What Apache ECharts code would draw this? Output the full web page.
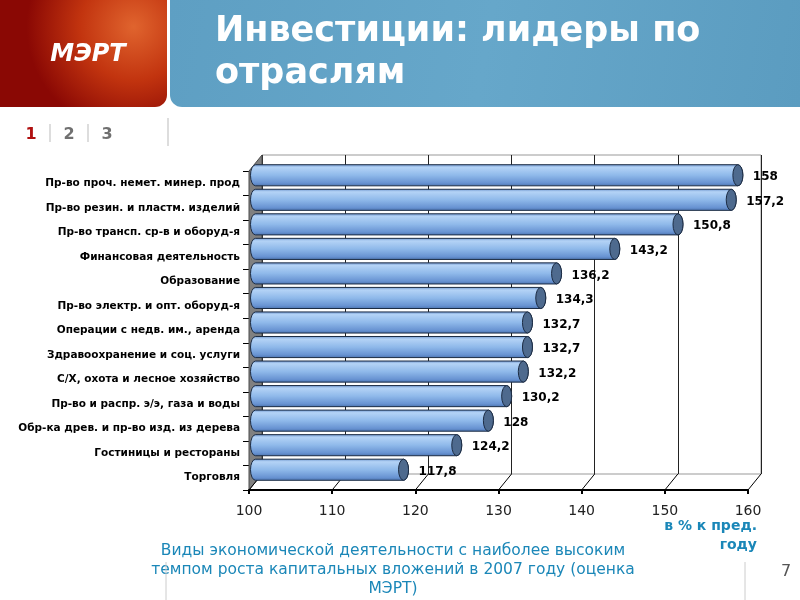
<!DOCTYPE html>
<html>
<head>
<meta charset="utf-8">
<script src="https://cdn.jsdelivr.net/npm/echarts@6/dist/echarts.min.js"></script>
<style>
  html, body { margin: 0; padding: 0; background: #fff; }
  #chart { width: 800px; height: 600px; }
</style>
</head>
<body>
<div id="chart"></div>
<script>
const categories = [
  "Пр-во проч. немет. минер. прод",
  "Пр-во резин. и пластм. изделий",
  "Пр-во трансп. ср-в и оборуд-я",
  "Финансовая деятельность",
  "Образование",
  "Пр-во электр. и опт. оборуд-я",
  "Операции с недв. им., аренда",
  "Здравоохранение и соц. услуги",
  "С/Х, охота и лесное хозяйство",
  "Пр-во и распр. э/э, газа и воды",
  "Обр-ка древ. и пр-во изд. из дерева",
  "Гостиницы и рестораны",
  "Торговля",
];
const values = [158, 157.2, 150.8, 143.2, 136.2, 134.3, 132.7, 132.7, 132.2, 130.2, 128, 124.2, 117.8];
const ticks = [100, 110, 120, 130, 140, 150, 160];

// 3d depth of the chart box
const DX = 13;
const DY = -16;
const FONT = '"DejaVu Sans"';
const TEAL = "#1b87b8";

var chart = echarts.init(document.getElementById("chart"));

function renderBar(params, api) {
  var val = api.value(0);
  var idx = api.value(1);
  var start = api.coord([ticks[0], idx]);
  var end = api.coord([val, idx]);
  var band = api.size([0, 1])[1];
  var h = band * 0.86;
  var ry = h / 2;
  var rx = 5;
  var x0 = start[0] + DX / 2;
  var x1 = end[0] + DX / 2;
  var yc = start[1] + DY / 2;
  var yt = yc - ry;
  var yb = yc + ry;
  var body =
    "M" + x0 + " " + yt + " L" + x1 + " " + yt +
    " A" + rx + " " + ry + " 0 0 1 " + x1 + " " + yb +
    " L" + x0 + " " + yb +
    " A" + rx + " " + ry + " 0 0 1 " + x0 + " " + yt + " Z";
  var cap =
    "M" + x1 + " " + yt +
    " A" + rx + " " + ry + " 0 0 1 " + x1 + " " + yb +
    " A" + rx + " " + ry + " 0 0 1 " + x1 + " " + yt + " Z";
  return {
    type: "group",
    children: [
      {
        type: "path",
        shape: { pathData: body },
        style: {
          fill: new echarts.graphic.LinearGradient(0, 0, 0, 1, [
            { offset: 0, color: "#6a92cc" },
            { offset: 0.14, color: "#b4d3f6" },
            { offset: 0.5, color: "#8fb9ea" },
            { offset: 0.85, color: "#6893d2" },
            { offset: 1, color: "#4a72ae" },
          ]),
          stroke: "#1c2c44",
          lineWidth: 1,
        },
      },
      {
        type: "path",
        shape: { pathData: cap },
        style: { fill: "#4e6a8e", stroke: "#1c2c44", lineWidth: 1 },
      },
      {
        type: "text",
        style: {
          x: x1 + rx + 10,
          y: yc + 2,
          text: String(val).replace(".", ","),
          font: "bold 12px " + FONT,
          fill: "#000",
          textAlign: "left",
          textVerticalAlign: "middle",
        },
      },
    ],
  };
}

function renderWall(params, api) {
  var band = api.size([0, 1])[1];
  var top = api.coord([ticks[0], 0]);
  var bot = api.coord([ticks[0], categories.length - 1]);
  var x = top[0];
  var y0 = top[1] - band / 2;
  var y1 = bot[1] + band / 2;
  return {
    type: "polygon",
    shape: {
      points: [
        [x, y0],
        [x, y1],
        [x + DX, y1 + DY],
        [x + DX, y0 + DY],
      ],
    },
    style: { fill: "#808080", stroke: "#4a4a4a", lineWidth: 1 },
  };
}

function renderFloor(params, api) {
  var band = api.size([0, 1])[1];
  var p = api.coord([api.value(0), api.value(1)]);
  var y = p[1] + band / 2;
  return {
    type: "line",
    shape: { x1: p[0], y1: y, x2: p[0] + DX, y2: y + DY },
    style: { stroke: "#000", lineWidth: 1 },
  };
}

var option = {
  animation: false,
  backgroundColor: "#fff",
  graphic: [
    {
      type: "rect",
      shape: { x: 0, y: 0, width: 167, height: 107, r: [0, 0, 12, 0] },
      style: {
        fill: new echarts.graphic.RadialGradient(0.8, 0.25, 1.0, [
          { offset: 0, color: "#e0642e" },
          { offset: 0.5, color: "#c2340f" },
          { offset: 1, color: "#8a0804" },
        ]),
      },
    },
    {
      type: "text",
      style: {
        x: 88,
        y: 55,
        text: "МЭРТ",
        font: "italic bold 24px " + FONT,
        fill: "#fff",
        textAlign: "center",
        textVerticalAlign: "middle",
      },
    },
    {
      type: "rect",
      shape: { x: 170, y: 0, width: 630, height: 107, r: [0, 0, 0, 12] },
      style: {
        fill: new echarts.graphic.LinearGradient(0, 0, 1, 1, [
          { offset: 0, color: "#5e9fc3" },
          { offset: 0.5, color: "#66a7ca" },
          { offset: 1, color: "#5b9cc0" },
        ]),
      },
    },
    {
      type: "text",
      style: {
        x: 215,
        y: 32,
        text: "Инвестиции: лидеры по",
        font: "bold 35px " + FONT,
        fill: "#fff",
        textVerticalAlign: "middle",
      },
    },
    {
      type: "text",
      style: {
        x: 215,
        y: 74,
        text: "отраслям",
        font: "bold 35px " + FONT,
        fill: "#fff",
        textVerticalAlign: "middle",
      },
    },
    {
      type: "text",
      style: { x: 31, y: 135, text: "1", font: "bold 16px " + FONT, fill: "#b01010", textAlign: "center", textVerticalAlign: "middle" },
    },
    {
      type: "text",
      style: { x: 69, y: 135, text: "2", font: "bold 16px " + FONT, fill: "#707070", textAlign: "center", textVerticalAlign: "middle" },
    },
    {
      type: "text",
      style: { x: 107, y: 135, text: "3", font: "bold 16px " + FONT, fill: "#707070", textAlign: "center", textVerticalAlign: "middle" },
    },
    { type: "line", shape: { x1: 50, y1: 124, x2: 50, y2: 142 }, style: { stroke: "#bbb" } },
    { type: "line", shape: { x1: 88, y1: 124, x2: 88, y2: 142 }, style: { stroke: "#bbb" } },
    { type: "line", shape: { x1: 168, y1: 118, x2: 168, y2: 146 }, style: { stroke: "#bbb" } },
    {
      type: "text",
      style: { x: 757, y: 526, text: "в % к пред.", font: "bold 14px " + FONT, fill: TEAL, textAlign: "right", textVerticalAlign: "middle" },
    },
    {
      type: "text",
      style: { x: 757, y: 545, text: "году", font: "bold 14px " + FONT, fill: TEAL, textAlign: "right", textVerticalAlign: "middle" },
    },
    {
      type: "text",
      style: {
        x: 393,
        y: 551,
        text: "Виды экономической деятельности с наиболее высоким",
        font: "15.5px " + FONT,
        fill: TEAL,
        textAlign: "center",
        textVerticalAlign: "middle",
      },
    },
    {
      type: "text",
      style: {
        x: 393,
        y: 570,
        text: "темпом роста капитальных вложений в 2007 году (оценка",
        font: "15.5px " + FONT,
        fill: TEAL,
        textAlign: "center",
        textVerticalAlign: "middle",
      },
    },
    {
      type: "text",
      style: { x: 393, y: 589, text: "МЭРТ)", font: "15.5px " + FONT, fill: TEAL, textAlign: "center", textVerticalAlign: "middle" },
    },
    { type: "line", shape: { x1: 166, y1: 562, x2: 166, y2: 600 }, style: { stroke: "#ccc" } },
    { type: "line", shape: { x1: 745, y1: 562, x2: 745, y2: 600 }, style: { stroke: "#ccc" } },
    {
      type: "text",
      style: { x: 786, y: 572, text: "7", font: "16px " + FONT, fill: "#555", textAlign: "center", textVerticalAlign: "middle" },
    },
  ],
  grid: [
    { left: 249, top: 171, width: 499, height: 319 },
    { left: 249 + DX, top: 171 + DY, width: 499, height: 319, show: true, borderColor: "#999", borderWidth: 1 },
  ],
  xAxis: [
    {
      type: "value",
      min: 100,
      max: 160,
      interval: 10,
      axisLine: { show: true, lineStyle: { color: "#000", width: 2 } },
      axisTick: { show: true, length: 4, lineStyle: { color: "#000", width: 2 } },
      axisLabel: { margin: 14, color: "#222", fontSize: 14, fontFamily: "DejaVu Sans" },
      splitLine: { show: false },
      z: 5,
    },
    {
      type: "value",
      gridIndex: 1,
      min: 100,
      max: 160,
      interval: 10,
      axisLine: { show: false },
      axisTick: { show: false },
      axisLabel: { show: false },
      splitLine: { show: true, lineStyle: { color: "#222", width: 1 } },
    },
  ],
  yAxis: [
    {
      type: "category",
      data: categories,
      inverse: true,
      axisLine: { show: false },
      axisTick: { show: true, length: 6, lineStyle: { color: "#000" } },
      axisLabel: { margin: 9, color: "#000", fontSize: 10.5, fontWeight: "bold", fontFamily: "DejaVu Sans" },
    },
    {
      type: "category",
      gridIndex: 1,
      data: categories,
      inverse: true,
      show: false,
    },
  ],
  series: [
    {
      type: "custom",
      renderItem: renderWall,
      data: [[ticks[0], 0]],
      encode: { x: 0, y: 1 },
      z: 1,
      silent: true,
    },
    {
      type: "custom",
      renderItem: renderFloor,
      data: ticks.map(function (t) { return [t, categories.length - 1]; }),
      encode: { x: 0, y: 1 },
      z: 1,
      silent: true,
    },
    {
      type: "custom",
      renderItem: renderBar,
      data: values.map(function (v, i) { return [v, i]; }),
      encode: { x: 0, y: 1 },
      z: 3,
    },
  ],
};
chart.setOption(option);
</script>
</body>
</html>
